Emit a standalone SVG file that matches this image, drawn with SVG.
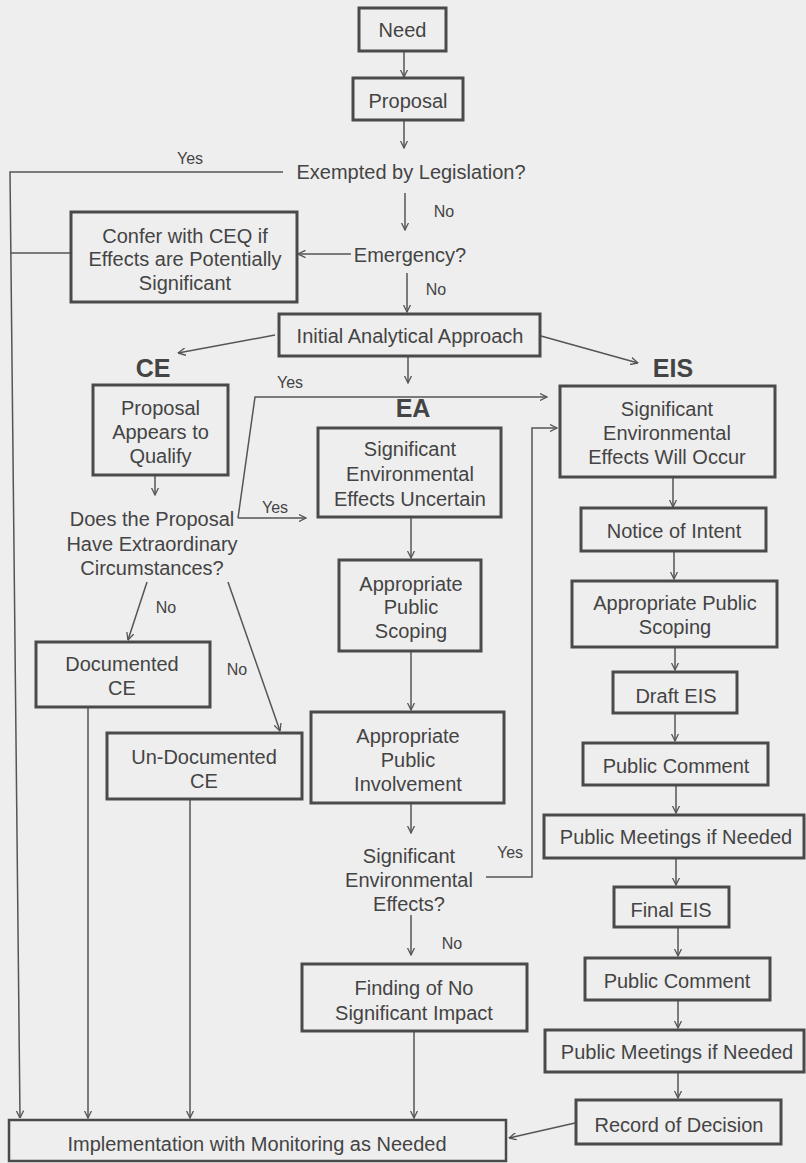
<svg xmlns="http://www.w3.org/2000/svg" width="806" height="1163" viewBox="0 0 806 1163">
<style>
.bg{fill:#eeeeee}
.box{fill:none;stroke:#4a4a4a;stroke-width:3}
.t{font-family:"Liberation Sans",Arial,sans-serif;font-size:20px;fill:#444;text-anchor:middle}
.lbl{font-family:"Liberation Sans",Arial,sans-serif;font-size:16px;fill:#444;text-anchor:middle}
.hd{font-family:"Liberation Sans",Arial,sans-serif;font-size:25px;font-weight:bold;fill:#444;text-anchor:middle}
.c{fill:none;stroke:#555;stroke-width:1.5}
.ca{fill:none;stroke:#555;stroke-width:1.5;marker-end:url(#ah)}
</style>
<defs>
<marker id="ah" viewBox="0 0 8 8" refX="7.5" refY="4" markerWidth="8" markerHeight="8" markerUnits="userSpaceOnUse" orient="auto">
<path d="M0,0.3 L7.5,4 L0,7.7" fill="none" stroke="#555" stroke-width="1.3"/>
</marker>
</defs>
<rect class="bg" x="0" y="0" width="806" height="1163"/>

<g id="connectors">
<line class="ca" x1="404" y1="51" x2="404" y2="77"/>
<line class="ca" x1="404" y1="120" x2="404" y2="148"/>
<polyline class="ca" points="283,172 10,172 20,1118"/>
<line class="ca" x1="405" y1="193" x2="405" y2="230"/>
<line class="c" x1="11" y1="253" x2="71" y2="253"/>
<line class="ca" x1="351" y1="254" x2="298" y2="254"/>
<line class="ca" x1="407" y1="273" x2="407" y2="312"/>
<line class="ca" x1="275" y1="335" x2="178" y2="353"/>
<line class="ca" x1="541" y1="336" x2="638" y2="363"/>
<line class="ca" x1="408" y1="357" x2="408" y2="383"/>
<line class="ca" x1="155" y1="476" x2="155" y2="495"/>
<polyline class="ca" points="238,518 255,397 547,397"/>
<line class="ca" x1="238" y1="518" x2="306" y2="518"/>
<line class="ca" x1="147" y1="582" x2="128" y2="640"/>
<line class="ca" x1="228" y1="582" x2="280" y2="731"/>
<line class="ca" x1="88" y1="707" x2="88" y2="1118"/>
<line class="ca" x1="190" y1="799" x2="190" y2="1118"/>
<line class="ca" x1="411" y1="517" x2="411" y2="558"/>
<line class="ca" x1="411" y1="651" x2="411" y2="710"/>
<line class="ca" x1="411" y1="803" x2="411" y2="833"/>
<polyline class="ca" points="486,877 532,877 532,428 557,428"/>
<line class="ca" x1="411" y1="915" x2="411" y2="955"/>
<line class="ca" x1="414" y1="1031" x2="414" y2="1118"/>
<line class="ca" x1="673" y1="477" x2="673" y2="507"/>
<line class="ca" x1="674" y1="551" x2="674" y2="579"/>
<line class="ca" x1="675" y1="647" x2="675" y2="670"/>
<line class="ca" x1="675" y1="713" x2="675" y2="741"/>
<line class="ca" x1="676" y1="785" x2="676" y2="813"/>
<line class="ca" x1="676" y1="858" x2="676" y2="885"/>
<line class="ca" x1="678" y1="927" x2="678" y2="956"/>
<line class="ca" x1="678" y1="1000" x2="678" y2="1028"/>
<line class="ca" x1="678" y1="1072" x2="678" y2="1098"/>
<line class="ca" x1="575" y1="1123" x2="509" y2="1138"/>
</g>

<g id="labels">
<text class="lbl" x="190" y="164">Yes</text>
<text class="lbl" x="444" y="217">No</text>
<text class="lbl" x="436" y="295">No</text>
<text class="lbl" x="290" y="388">Yes</text>
<text class="lbl" x="275" y="513">Yes</text>
<text class="lbl" x="166" y="613">No</text>
<text class="lbl" x="237" y="675">No</text>
<text class="lbl" x="510" y="858">Yes</text>
<text class="lbl" x="452" y="949">No</text>
<text class="hd" x="153" y="377">CE</text>
<text class="hd" x="413" y="417">EA</text>
<text class="hd" x="673" y="377">EIS</text>
</g>

<g id="need"><rect class="box" x="359" y="8" width="87" height="43"/><text class="t" x="402.5" y="37">Need</text></g>
<g id="proposal"><rect class="box" x="353" y="78" width="110" height="42"/><text class="t" x="408" y="108">Proposal</text></g>
<g id="exempted"><text class="t" x="411" y="179">Exempted by Legislation?</text></g>
<g id="emergency"><text class="t" x="410" y="262">Emergency?</text></g>
<g id="confer"><rect class="box" x="71" y="212" width="226" height="90"/>
<text class="t" x="185" y="243">Confer with CEQ if</text>
<text class="t" x="185" y="266">Effects are Potentially</text>
<text class="t" x="185" y="290">Significant</text></g>
<g id="initial"><rect class="box" x="279" y="314" width="261" height="42"/><text class="t" x="410" y="343">Initial Analytical Approach</text></g>
<g id="ce-qualify"><rect class="box" x="93" y="385" width="135" height="90"/>
<text class="t" x="160.5" y="415">Proposal</text>
<text class="t" x="160.5" y="439">Appears to</text>
<text class="t" x="160.5" y="463">Qualify</text></g>
<g id="ce-extraordinary">
<text class="t" x="152" y="526">Does the Proposal</text>
<text class="t" x="152" y="551">Have Extraordinary</text>
<text class="t" x="152" y="575">Circumstances?</text></g>
<g id="documented-ce"><rect class="box" x="36" y="642" width="174" height="65"/>
<text class="t" x="122" y="671">Documented</text>
<text class="t" x="122" y="695">CE</text></g>
<g id="undocumented-ce"><rect class="box" x="107" y="733" width="195" height="66"/>
<text class="t" x="204" y="764">Un-Documented</text>
<text class="t" x="204" y="788">CE</text></g>
<g id="ea-uncertain"><rect class="box" x="318" y="428" width="183" height="89"/>
<text class="t" x="410" y="456">Significant</text>
<text class="t" x="410" y="481">Environmental</text>
<text class="t" x="410" y="506">Effects Uncertain</text></g>
<g id="ea-scoping"><rect class="box" x="339" y="560" width="142" height="91"/>
<text class="t" x="411" y="591">Appropriate</text>
<text class="t" x="411" y="614">Public</text>
<text class="t" x="411" y="638">Scoping</text></g>
<g id="ea-involvement"><rect class="box" x="311" y="712" width="193" height="91"/>
<text class="t" x="408" y="743">Appropriate</text>
<text class="t" x="408" y="767">Public</text>
<text class="t" x="408" y="791">Involvement</text></g>
<g id="ea-significant">
<text class="t" x="409" y="863">Significant</text>
<text class="t" x="409" y="887">Environmental</text>
<text class="t" x="409" y="911">Effects?</text></g>
<g id="fonsi"><rect class="box" x="302" y="964" width="225" height="67"/>
<text class="t" x="414" y="995">Finding of No</text>
<text class="t" x="414" y="1020">Significant Impact</text></g>
<g id="eis-occur"><rect class="box" x="560" y="386" width="215" height="91"/>
<text class="t" x="667" y="416">Significant</text>
<text class="t" x="667" y="440">Environmental</text>
<text class="t" x="667" y="464">Effects Will Occur</text></g>
<g id="notice"><rect class="box" x="581" y="508" width="185" height="43"/><text class="t" x="674" y="538">Notice of Intent</text></g>
<g id="eis-scoping"><rect class="box" x="572" y="581" width="205" height="66"/>
<text class="t" x="675" y="610">Appropriate Public</text>
<text class="t" x="675" y="634">Scoping</text></g>
<g id="draft-eis"><rect class="box" x="613" y="672" width="124" height="41"/><text class="t" x="676" y="703">Draft EIS</text></g>
<g id="comment-1"><rect class="box" x="583" y="743" width="185" height="42"/><text class="t" x="676" y="773">Public Comment</text></g>
<g id="meetings-1"><rect class="box" x="544" y="815" width="260" height="43"/><text class="t" x="676" y="844">Public Meetings if Needed</text></g>
<g id="final-eis"><rect class="box" x="614" y="887" width="115" height="40"/><text class="t" x="671" y="917">Final EIS</text></g>
<g id="comment-2"><rect class="box" x="585" y="958" width="185" height="42"/><text class="t" x="677" y="988">Public Comment</text></g>
<g id="meetings-2"><rect class="box" x="545" y="1030" width="259" height="42"/><text class="t" x="677" y="1059">Public Meetings if Needed</text></g>
<g id="record"><rect class="box" x="576" y="1100" width="205" height="44"/><text class="t" x="679" y="1132">Record of Decision</text></g>
<g id="implementation"><rect class="box" x="9" y="1120" width="497" height="41" style="stroke-width:2.5"/><text class="t" x="257" y="1151">Implementation with Monitoring as Needed</text></g>
</svg>
